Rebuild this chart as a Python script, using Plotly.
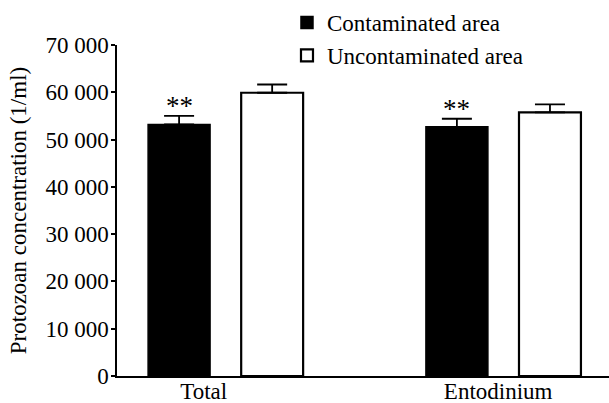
import plotly.graph_objects as go

categories = ["Total", "Entodinium"]
contaminated = [53200, 52700]
contaminated_err = [1800, 1700]
uncontaminated = [59900, 55750]
uncontaminated_err = [1750, 1700]
series_names = ["Contaminated area", "Uncontaminated area"]
significance = ["**", "**"]
y_ticks = [0, 10000, 20000, 30000, 40000, 50000, 60000, 70000]
y_tick_labels = ["0", "10 000", "20 000", "30 000", "40 000", "50 000", "60 000", "70 000"]

FONT = "Liberation Serif"
FS = 23
xpos = list(range(len(categories)))
label_pos = [xpos[0] - 0.078, xpos[1] - 0.018]
BAR_W = 0.223
OFF_C = -0.278
OFF_U = 0.057

fig = go.Figure()
fig.add_trace(go.Bar(
    x=xpos, y=contaminated, name=series_names[0],
    offset=OFF_C, width=BAR_W,
    marker=dict(color="black", line=dict(color="black", width=1.5)),
    error_y=dict(type="data", array=contaminated_err, arrayminus=[0] * len(contaminated),
                 symmetric=False, color="black", thickness=1.8, width=15),
))
fig.add_trace(go.Bar(
    x=xpos, y=uncontaminated, name=series_names[1],
    offset=OFF_U, width=BAR_W,
    marker=dict(color="white", line=dict(color="black", width=2.2)),
    error_y=dict(type="data", array=uncontaminated_err, arrayminus=[0] * len(uncontaminated),
                 symmetric=False, color="black", thickness=1.8, width=15),
))

for i, s in enumerate(significance):
    fig.add_annotation(x=xpos[i] + OFF_C + BAR_W / 2, y=contaminated[i] + contaminated_err[i],
                       text=s, showarrow=False, yanchor="bottom", yshift=-7,
                       font=dict(family=FONT, size=27, color="#000000"))

fig.update_layout(
    template="none",
    width=609, height=403,
    margin=dict(l=117, r=0, t=45, b=27, autoexpand=False),
    paper_bgcolor="white", plot_bgcolor="white",
    barmode="overlay",
    font=dict(family=FONT, size=FS, color="black"),
    legend=dict(x=0.3455, y=1.133, xanchor="left", yanchor="top",
                font=dict(family=FONT, size=FS), bgcolor="rgba(0,0,0,0)",
                tracegroupgap=0),
    showlegend=True,
)
fig.update_xaxes(
    range=[-0.39, 1.381], tickvals=label_pos, ticktext=categories,
    showline=True, linecolor="black", linewidth=1.5, ticks="", ticklen=0,
    ticklabelstandoff=-6,
    showgrid=False, zeroline=False, automargin=False,
)
fig.update_yaxes(
    range=[0, 70000], tickvals=y_ticks, ticktext=y_tick_labels,
    showline=True, linecolor="black", linewidth=1.5, ticks="outside",
    ticklen=4, tickwidth=1.5, tickcolor="black", ticklabelstandoff=-2,
    showgrid=False, zeroline=False, automargin=False,
    title=dict(text="Protozoan concentration (1/ml)", font=dict(family=FONT, size=FS), standoff=12),
)

fig.write_html("out.html", config={"displayModeBar": False},
               post_script="document.body.style.margin='0px';")
